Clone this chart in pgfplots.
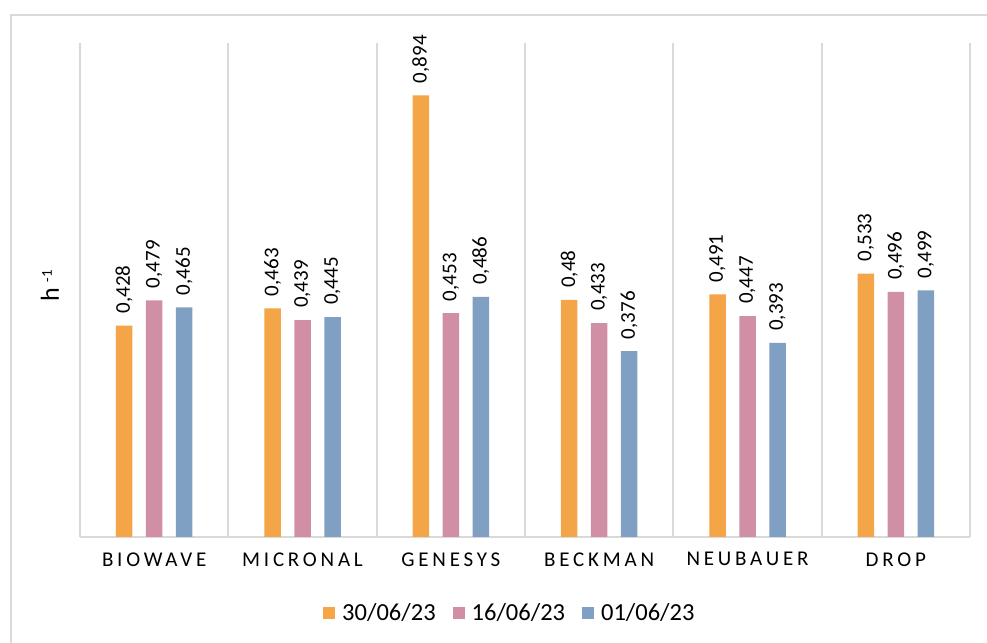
\documentclass[border=0pt]{standalone}
\usepackage{fontspec}
\setmainfont{Carlito}
\usepackage{pgfplots}
\pgfplotsset{compat=1.18}
\definecolor{cOr}{RGB}{243,165,72}
\definecolor{cPk}{RGB}{209,143,166}
\definecolor{cBl}{RGB}{127,159,195}
\definecolor{cGr}{RGB}{217,217,217}
\begin{document}
\begin{tikzpicture}[x=1bp,y=1bp]
\useasboundingbox (0,0) rectangle (987,643);
\draw[cGr, line width=2bp] (11,0) -- (11,628) -- (990,628);
\begin{axis}[
  at={(80bp,106bp)}, anchor=south west,
  scale only axis, width=890bp, height=494bp,
  xmin=-0.5, xmax=5.5, ymin=0, ymax=1,
  ybar=13.5bp, bar width=16.5bp,
  axis x line*=bottom, axis y line*=left,
  x axis line style={cGr, line width=2bp},
  y axis line style={draw=none},
  ytick=\empty,
  xtick={0,1,2,3,4,5},
  xticklabels={BIOWAVE,MICRONAL,GENESYS,BECKMAN,NEUBAUER,DROP},
  major tick length=0pt,
  xticklabel style={font=\fontsize{21bp}{25bp}\selectfont\addfontfeature{LetterSpace=18}, yshift=-12bp},
  extra x ticks={-0.5,0.5,1.5,2.5,3.5,4.5,5.5},
  extra x tick labels={},
  extra x tick style={grid=major, major grid style={cGr, line width=2bp}},
  /pgf/number format/assume math mode=true,
  /pgf/number format/use comma,
  /pgf/number format/fixed,
  /pgf/number format/precision=3,
  nodes near coords,
  every node near coord/.append style={rotate=90, anchor=west, inner xsep=12bp, inner ysep=0pt, black, font=\fontsize{21bp}{25bp}\selectfont},
  ylabel={h \raisebox{0.55ex}{\fontsize{15bp}{18bp}\selectfont -1}},
  ylabel style={at={(axis description cs:-0.034,0.508)}, anchor=center, font=\fontsize{26bp}{30bp}\selectfont},
  legend style={at={(axis description cs:0.483,-0.154)}, anchor=center, draw=none, legend columns=-1,
    font=\fontsize{24.5bp}{28bp}\selectfont,
    /tikz/every odd column/.append style={column sep=5bp},
    /tikz/every even column/.append style={column sep=15bp}},
  legend image code/.code={\fill[#1] (0bp,-6bp) rectangle (12bp,6bp);},
]
\addplot[fill=cOr, draw=none] coordinates {(0,0.428) (1,0.463) (2,0.894) (3,0.48) (4,0.491) (5,0.533)};
\addplot[fill=cPk, draw=none] coordinates {(0,0.479) (1,0.439) (2,0.453) (3,0.433) (4,0.447) (5,0.496)};
\addplot[fill=cBl, draw=none] coordinates {(0,0.465) (1,0.445) (2,0.486) (3,0.376) (4,0.393) (5,0.499)};
\legend{30/06/23,16/06/23,01/06/23}
\end{axis}
\end{tikzpicture}
\end{document}
